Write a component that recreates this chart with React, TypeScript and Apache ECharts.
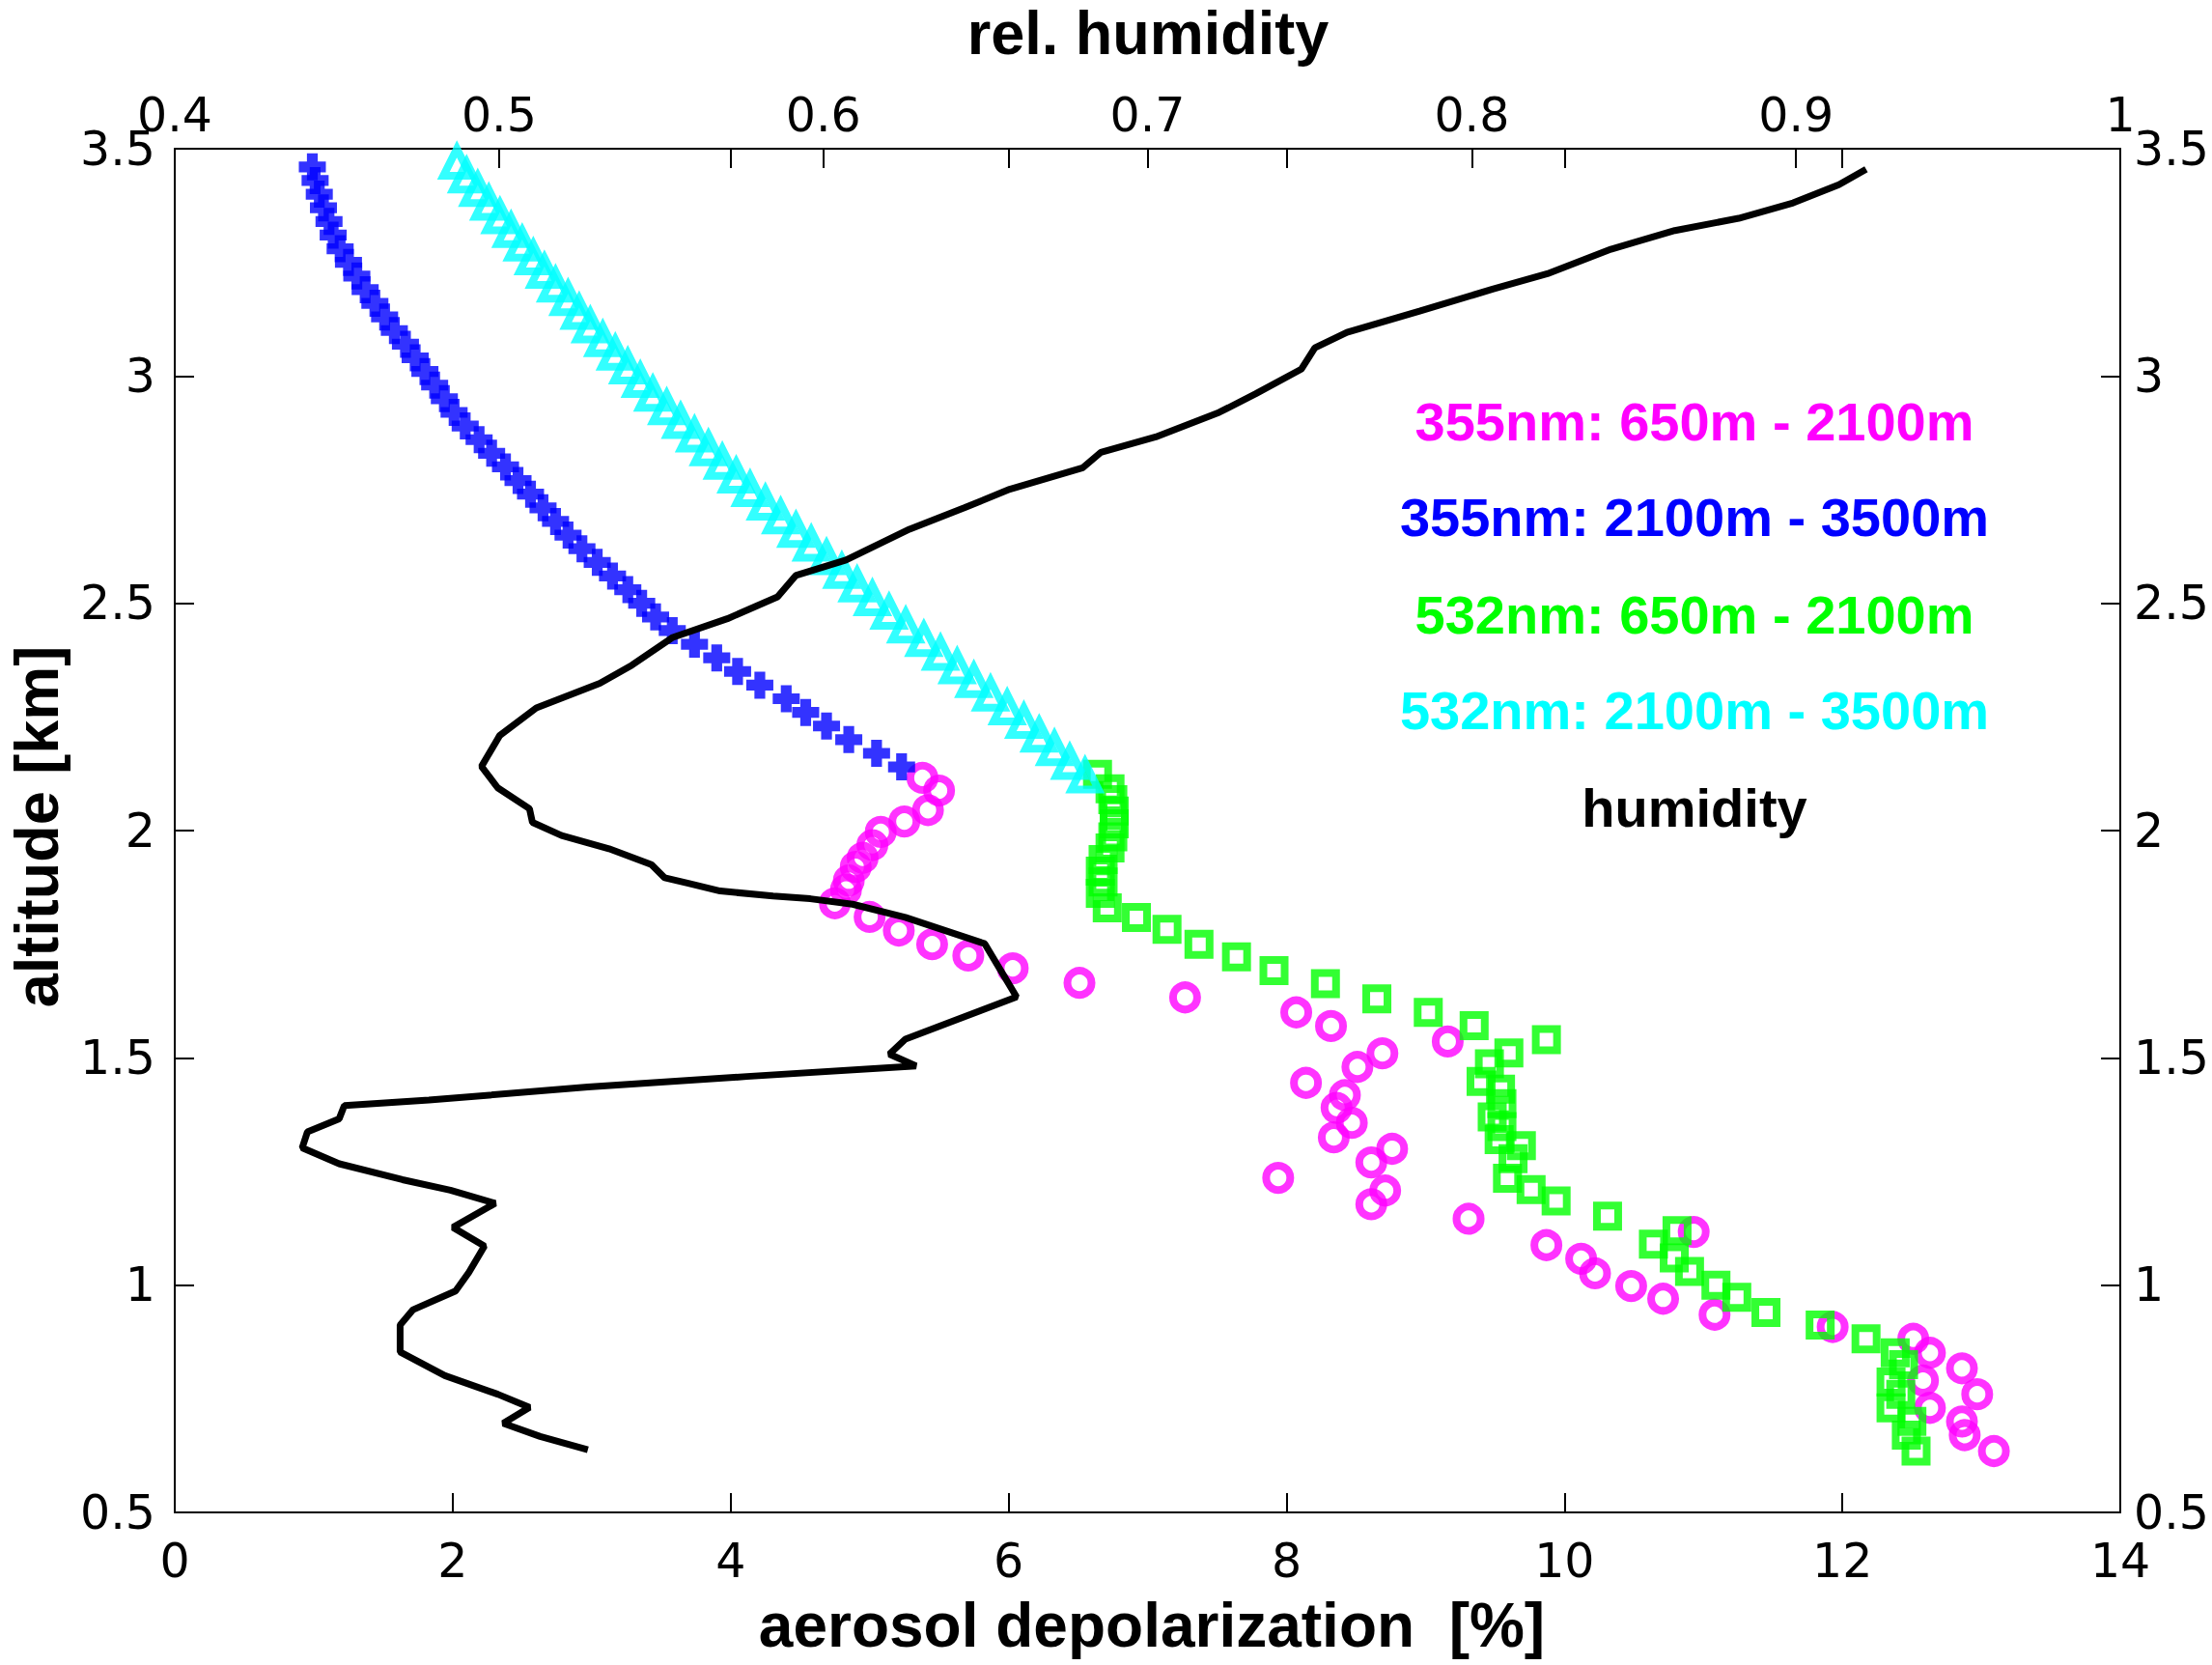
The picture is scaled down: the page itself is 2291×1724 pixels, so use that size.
import React, { useEffect, useRef } from "react";
import * as echarts from "echarts";

// ---- Data ----
// 355nm, 650m - 2100m (magenta circles)
const mag355Depol = [5.38, 5.50, 5.42, 5.25, 5.08, 5.02, 4.95, 4.90, 4.85, 4.83, 4.75, 5.00, 5.21, 5.45, 5.71, 6.03, 6.51, 7.27, 8.07, 8.32, 9.16, 8.69, 8.51, 8.14, 8.42, 8.36, 8.47, 8.34, 8.76, 8.61, 7.94, 8.71, 8.61, 9.31, 10.93, 9.87, 10.12, 10.22, 10.48, 10.71, 11.08, 11.93, 12.51, 12.63, 12.86, 12.58, 12.97, 12.63, 12.86, 12.88, 13.09];
const mag355Alt = [2.116, 2.088, 2.045, 2.02, 1.997, 1.968, 1.94, 1.92, 1.89, 1.87, 1.84, 1.81, 1.78, 1.75, 1.725, 1.697, 1.665, 1.633, 1.60, 1.57, 1.536, 1.51, 1.48, 1.445, 1.418, 1.39, 1.357, 1.325, 1.30, 1.27, 1.236, 1.208, 1.178, 1.146, 1.117, 1.088, 1.058, 1.026, 0.998, 0.97, 0.935, 0.908, 0.882, 0.851, 0.817, 0.79, 0.76, 0.73, 0.70, 0.67, 0.635];

// 355nm, 2100m - 3500m (blue crosses)
const blue355Alt = [2.14, 2.17, 2.20, 2.23, 2.26, 2.29, 2.32, 2.35, 2.38, 2.41, 2.44, 2.47, 2.50, 2.53, 2.56, 2.59, 2.62, 2.65, 2.68, 2.71, 2.74, 2.77, 2.80, 2.83, 2.86, 2.89, 2.92, 2.95, 2.98, 3.01, 3.04, 3.07, 3.10, 3.13, 3.16, 3.19, 3.22, 3.25, 3.28, 3.31, 3.34, 3.37, 3.40, 3.43, 3.46];
const blue355Depol = [5.23, 5.05, 4.85, 4.69, 4.54, 4.40, 4.21, 4.05, 3.90, 3.74, 3.58, 3.46, 3.36, 3.26, 3.15, 3.04, 2.93, 2.83, 2.74, 2.65, 2.56, 2.47, 2.38, 2.28, 2.19, 2.09, 2.01, 1.94, 1.87, 1.80, 1.73, 1.66, 1.58, 1.51, 1.44, 1.37, 1.31, 1.25, 1.19, 1.14, 1.11, 1.07, 1.04, 1.01, 0.99];

// 532nm, 650m - 2100m (green squares)
const green532Depol = [6.64, 6.73, 6.75, 6.76, 6.76, 6.75, 6.73, 6.68, 6.66, 6.68, 6.66, 6.71, 6.92, 7.14, 7.37, 7.64, 7.91, 8.28, 8.65, 9.02, 9.35, 9.87, 9.60, 9.46, 9.40, 9.54, 9.55, 9.48, 9.55, 9.53, 9.69, 9.63, 9.59, 9.76, 9.94, 10.31, 10.81, 10.64, 10.79, 10.90, 11.09, 11.24, 11.45, 11.84, 12.17, 12.38, 12.44, 12.35, 12.42, 12.35, 12.50, 12.46, 12.53];
const green532Alt = [2.124, 2.092, 2.068, 2.043, 2.015, 1.986, 1.962, 1.936, 1.911, 1.887, 1.862, 1.83, 1.809, 1.783, 1.75, 1.722, 1.692, 1.663, 1.63, 1.60, 1.571, 1.54, 1.511, 1.487, 1.448, 1.431, 1.399, 1.37, 1.349, 1.32, 1.307, 1.278, 1.235, 1.21, 1.185, 1.152, 1.12, 1.09, 1.06, 1.03, 1.0, 0.973, 0.94, 0.912, 0.882, 0.851, 0.825, 0.787, 0.76, 0.73, 0.70, 0.67, 0.635];

// 532nm, 2100m - 3500m (cyan triangles)
const cyan532Alt = [2.12, 2.15, 2.18, 2.21, 2.24, 2.27, 2.30, 2.33, 2.36, 2.39, 2.42, 2.45, 2.48, 2.51, 2.54, 2.57, 2.60, 2.63, 2.66, 2.69, 2.72, 2.75, 2.78, 2.81, 2.84, 2.87, 2.90, 2.93, 2.96, 2.99, 3.02, 3.05, 3.08, 3.11, 3.14, 3.17, 3.20, 3.23, 3.26, 3.29, 3.32, 3.35, 3.38, 3.41, 3.44, 3.47];
const cyan532Depol = [6.55, 6.44, 6.33, 6.22, 6.11, 5.99, 5.87, 5.75, 5.63, 5.51, 5.39, 5.26, 5.14, 5.02, 4.91, 4.80, 4.69, 4.58, 4.47, 4.36, 4.25, 4.14, 4.04, 3.94, 3.84, 3.74, 3.64, 3.54, 3.44, 3.35, 3.26, 3.17, 3.08, 2.99, 2.91, 2.83, 2.74, 2.66, 2.58, 2.50, 2.42, 2.34, 2.26, 2.18, 2.10, 2.03];

// relative humidity profile (black line, top axis)
const humAlt = [0.638, 0.667, 0.696, 0.731, 0.760, 0.801, 0.853, 0.912, 0.946, 0.987, 1.028, 1.086, 1.127, 1.180, 1.209, 1.232, 1.267, 1.302, 1.337, 1.366, 1.395, 1.407, 1.436, 1.459, 1.482, 1.508, 1.541, 1.634, 1.751, 1.809, 1.838, 1.850, 1.856, 1.867, 1.884, 1.896, 1.925, 1.960, 1.989, 2.018, 2.048, 2.094, 2.141, 2.209, 2.270, 2.324, 2.364, 2.425, 2.466, 2.514, 2.561, 2.595, 2.663, 2.710, 2.751, 2.798, 2.832, 2.866, 2.920, 2.961, 3.015, 3.062, 3.096, 3.143, 3.191, 3.225, 3.279, 3.320, 3.347, 3.381, 3.421, 3.455];
const humValue = [0.5274, 0.5127, 0.5013, 0.5094, 0.4996, 0.4833, 0.4695, 0.4695, 0.4735, 0.4866, 0.4907, 0.4955, 0.4858, 0.4988, 0.4850, 0.4702, 0.4507, 0.4393, 0.4409, 0.4507, 0.4523, 0.4784, 0.5274, 0.5764, 0.6286, 0.6204, 0.6253, 0.6596, 0.6498, 0.6253, 0.6090, 0.5960, 0.5845, 0.5682, 0.5584, 0.5511, 0.5470, 0.5339, 0.5193, 0.5103, 0.5094, 0.4996, 0.4946, 0.5002, 0.5115, 0.5311, 0.5410, 0.5536, 0.5704, 0.5859, 0.5915, 0.6070, 0.6266, 0.6435, 0.6575, 0.6800, 0.6856, 0.7025, 0.7221, 0.7334, 0.7474, 0.7516, 0.7615, 0.7839, 0.8064, 0.8233, 0.8429, 0.8626, 0.8823, 0.8991, 0.9132, 0.9216];

// axes / labels
const depolRange = [0, 14];
const depolStep = 2;
const humRange = [0.4, 1.0];
const humStep = 0.1;
const altRange = [0.5, 3.5];
const altStep = 0.5;
const topDepolTicks = [4, 6, 8, 10, 12];

const legendLabels = [
  "355nm: 650m - 2100m",
  "355nm: 2100m - 3500m",
  "532nm: 650m - 2100m",
  "532nm: 2100m - 3500m",
  "humidity",
];
const legendColors = ["#ff00ff", "#0000ff", "#00ff00", "#00ffff", "#000000"];

const xTitle = "aerosol depolarization  [%]";
const topTitle = "rel. humidity";
const yTitle = "altitude [km]";

const zip = (xs: number[], ys: number[]) => xs.map((x, i) => [x, ys[i]]);

const W = 2291;
const H = 1724;
const G = { left: 181, top: 154, width: 2016, height: 1412 };

const CROSS = "path://M3,0H7V3H10V7H7V10H3V7H0V3H3Z";

export default function App() {
  const ref = useRef<HTMLDivElement>(null);

  useEffect(() => {
    if (!ref.current) return;
    const chart = echarts.init(ref.current, undefined, { renderer: "svg" });

    const tickFont = { fontSize: 49, fontFamily: "DejaVu Sans", color: "#000" };
    const axLine = { show: true, onZero: false, lineStyle: { color: "#000", width: 2 } };
    const axTick = { show: true, inside: true, length: 20, lineStyle: { color: "#000", width: 2 } };

    const titleFont = 'bold 63px "Liberation Sans"';
    const xTitleFont = 'bold 64px "Liberation Sans"';
    const legendFont = 'bold 56px "Liberation Sans"';

    const txt = (text: string, font: string, fill: string) => ({
      text,
      font,
      fill,
      textAlign: "center",
      textVerticalAlign: "middle",
      align: "center",
      verticalAlign: "middle",
    });

    const graphics: any[] = [
      { type: "text", x: G.left + G.width / 2, y: 34, style: txt(topTitle, titleFont, "#000") },
      { type: "text", x: G.left + G.width / 2 + 4, y: 1683, style: txt(xTitle, xTitleFont, "#000") },
      { type: "text", x: 38, y: 856, rotation: Math.PI / 2, style: txt(yTitle, titleFont, "#000") },
    ];
    const legendY = [436, 535, 636, 735, 836];
    legendLabels.forEach((t, i) => {
      graphics.push({ type: "text", x: 1755, y: legendY[i], style: txt(t, legendFont, legendColors[i]) });
    });

    chart.setOption({
      animation: false,
      backgroundColor: "#ffffff",
      textStyle: { fontFamily: "Liberation Sans" },
      grid: { left: G.left, top: G.top, width: G.width, height: G.height, containLabel: false },
      xAxis: [
        {
          type: "value",
          position: "bottom",
          min: depolRange[0],
          max: depolRange[1],
          interval: depolStep,
          axisLine: axLine,
          axisTick: axTick,
          axisLabel: { ...tickFont, margin: 26 },
          splitLine: { show: false },
        },
        {
          type: "value",
          position: "top",
          min: humRange[0],
          max: humRange[1],
          interval: humStep,
          axisLine: axLine,
          axisTick: axTick,
          axisLabel: { ...tickFont, margin: 10, formatter: (v: number) => String(Number(v.toFixed(1))) },
          splitLine: { show: false },
        },
        {
          type: "value",
          position: "top",
          min: depolRange[0],
          max: depolRange[1],
          interval: depolStep,
          axisLine: { show: false },
          axisTick: { ...axTick, customValues: topDepolTicks },
          axisLabel: { show: false },
          splitLine: { show: false },
        },
      ],
      yAxis: [
        {
          type: "value",
          position: "left",
          min: altRange[0],
          max: altRange[1],
          interval: altStep,
          axisLine: axLine,
          axisTick: axTick,
          axisLabel: { ...tickFont, margin: 20 },
          splitLine: { show: false },
        },
        {
          type: "value",
          position: "right",
          min: altRange[0],
          max: altRange[1],
          interval: altStep,
          axisLine: axLine,
          axisTick: axTick,
          axisLabel: { ...tickFont, margin: 14 },
          splitLine: { show: false },
        },
      ],
      graphic: graphics,
      series: [
        {
          name: legendLabels[0],
          type: "scatter",
          xAxisIndex: 0,
          yAxisIndex: 0,
          data: zip(mag355Depol, mag355Alt),
          symbol: "circle",
          symbolSize: 25,
          itemStyle: { color: "rgba(0,0,0,0)", borderColor: legendColors[0], borderWidth: 8 },
          clip: false,
          z: 2,
        },
        {
          name: legendLabels[1],
          type: "scatter",
          xAxisIndex: 0,
          yAxisIndex: 0,
          data: zip(blue355Depol, blue355Alt),
          symbol: CROSS,
          symbolSize: 28,
          itemStyle: { color: legendColors[1] },
          clip: false,
          z: 3,
        },
        {
          name: legendLabels[2],
          type: "scatter",
          xAxisIndex: 0,
          yAxisIndex: 0,
          data: zip(green532Depol, green532Alt),
          symbol: "rect",
          symbolSize: 22,
          itemStyle: { color: "rgba(0,0,0,0)", borderColor: legendColors[2], borderWidth: 8 },
          clip: false,
          z: 4,
        },
        {
          name: legendLabels[3],
          type: "scatter",
          xAxisIndex: 0,
          yAxisIndex: 0,
          data: zip(cyan532Depol, cyan532Alt),
          symbol: "triangle",
          symbolSize: 28,
          itemStyle: { color: "rgba(0,0,0,0)", borderColor: legendColors[3], borderWidth: 8 },
          clip: false,
          z: 5,
        },
        {
          name: legendLabels[4],
          type: "line",
          xAxisIndex: 1,
          yAxisIndex: 0,
          data: zip(humValue, humAlt),
          showSymbol: false,
          symbol: "none",
          lineStyle: { color: "#000", width: 7 },
          clip: false,
          z: 6,
        },
      ],
    });

    return () => chart.dispose();
  }, []);

  return (
    <div
      ref={ref}
      style={{ position: "fixed", left: 0, top: 0, width: W, height: H, background: "#fff" }}
    />
  );
}
